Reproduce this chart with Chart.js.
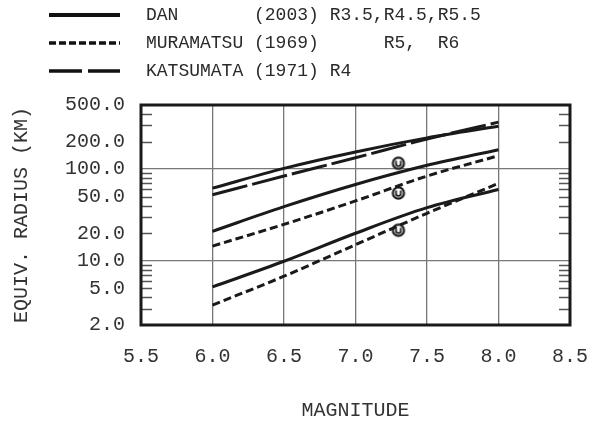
<!DOCTYPE html>
<html>
<head>
<meta charset="utf-8">
<script src="https://cdn.jsdelivr.net/npm/chart.js@4.4.1/dist/chart.umd.min.js"></script>
<style>
  body { margin: 0; background: #fff; }
  #wrap { position: relative; width: 589px; height: 425px; }
  #maingraph { position: absolute; left: 0; top: 0; }
  .key { position: absolute; left: 49px; height: 28px; font: 18px "Liberation Mono", monospace; color: #2a2a2a; white-space: pre; }
  .key svg { position: absolute; left: 0; top: 0; }
  .key span { position: absolute; left: 97px; top: 3px; }
</style>
</head>
<body>
<div id="wrap">
  <canvas id="maingraph" width="589" height="425"></canvas>
  <div class="key" style="top:2px">
    <svg width="75" height="28"><line x1="0" y1="13" x2="71" y2="13" stroke="#111" stroke-width="4"/></svg>
    <span>DAN       (2003) R3.5,R4.5,R5.5</span>
  </div>
  <div class="key" style="top:30px">
    <svg width="75" height="28"><line x1="0" y1="13" x2="71" y2="13" stroke="#111" stroke-width="3.5" stroke-dasharray="7,3"/></svg>
    <span>MURAMATSU (1969)      R5,  R6</span>
  </div>
  <div class="key" style="top:58px">
    <svg width="75" height="28"><line x1="0" y1="13" x2="71" y2="13" stroke="#111" stroke-width="3.5" stroke-dasharray="33,6"/></svg>
    <span>KATSUMATA (1971) R4</span>
  </div>
</div>
<script>
// magnitudes where the curves are sampled
const magnitudes = [6.0, 6.5, 7.0, 7.5, 8.0];

// Dan (2003) radii for R3.5 / R4.5 / R5.5 (km)
const danR35 = [5.2, 9.9, 20, 38, 60];
const danR45 = [21, 39, 68, 110, 163];
const danR55 = [62, 102, 154, 219, 293];

// Muramatsu (1969) R5 / R6
const muraR5 = [3.3, 6.8, 15, 33, 70];
const muraR6 = [14.5, 25, 45, 84, 140];

// Katsumata (1971) R4
const katsR4 = [52.5, 84, 133, 213, 325];

// observed radii at M7.3
const obsMag = 7.3;
const obsRadius = [116, 55, 21.6];

const xTicks = [5.5, 6.0, 6.5, 7.0, 7.5, 8.0, 8.5];
const yTicks = [2, 5, 10, 20, 50, 100, 200, 500];
const yGrid = [10, 100];

const ink = "#1a1a1a";
const labelFont = { family: "Liberation Mono", size: 20 };

function pts(arr) {
  return magnitudes.map((m, i) => ({ x: m, y: arr[i] }));
}

function curve(arr, dash) {
  return {
    data: pts(arr),
    borderColor: ink,
    borderWidth: 3,
    borderDash: dash,
    pointRadius: 0,
    cubicInterpolationMode: "monotone",
    fill: false,
  };
}

// little circle symbol with a "u" inside
function makeMarker() {
  const c = document.createElement("canvas");
  c.width = 16; c.height = 16;
  const g = c.getContext("2d");
  g.fillStyle = "#fff";
  g.strokeStyle = ink;
  g.lineWidth = 2.2;
  g.beginPath(); g.arc(8, 8, 5.6, 0, Math.PI * 2); g.fill(); g.stroke();
  g.lineWidth = 1.8;
  g.beginPath();
  g.moveTo(5.6, 5.5); g.lineTo(5.6, 8.5);
  g.arc(8, 8.5, 2.4, Math.PI, 0, true);
  g.lineTo(10.4, 5.5);
  g.stroke();
  return c;
}

// frame + inward log minor ticks on both sides
const frame = {
  id: "frame",
  afterDraw(chart) {
    const { ctx, chartArea: a, scales } = chart;
    const y = scales.y;
    ctx.save();
    ctx.strokeStyle = "#555";
    ctx.lineWidth = 1.3;
    for (let d = 1; d <= 100; d *= 10) {
      for (let k = 1; k <= 9; k++) {
        const v = k * d;
        if (v <= y.min || v >= y.max || yGrid.includes(v)) continue;
        const py = Math.round(y.getPixelForValue(v)) + 0.5;
        ctx.beginPath();
        ctx.moveTo(a.left, py); ctx.lineTo(a.left + 11, py);
        ctx.moveTo(a.right, py); ctx.lineTo(a.right - 11, py);
        ctx.stroke();
      }
    }
    ctx.strokeStyle = ink;
    ctx.lineWidth = 3;
    ctx.strokeRect(a.left, a.top, a.right - a.left, a.bottom - a.top);
    ctx.restore();
  },
};

const ctx = document.getElementById("maingraph");

new Chart(ctx, {
  type: "line",
  data: {
    datasets: [
      curve(danR35, []),
      curve(danR45, []),
      curve(danR55, []),
      curve(muraR5, [8, 4]),
      curve(muraR6, [8, 4]),
      curve(katsR4, [36, 5]),
      {
        data: obsRadius.map((r) => ({ x: obsMag, y: r })),
        showLine: false,
        pointStyle: makeMarker(),
        pointRadius: 6,
      },
    ],
  },
  options: {
    responsive: false,
    animation: false,
    layout: { padding: { top: 105, right: 19, left: 0, bottom: 0 } },
    plugins: { legend: { display: false }, tooltip: { enabled: false } },
    scales: {
      x: {
        type: "linear",
        min: 5.5,
        max: 8.5,
        afterBuildTicks: (s) => { s.ticks = xTicks.map((v) => ({ value: v })); },
        afterFit: (s) => { s.height = 100; s.paddingLeft = 0; s.paddingRight = 0; },
        ticks: { color: "#333", font: labelFont, padding: 20, callback: (v) => v.toFixed(1) },
        grid: { color: "#777", lineWidth: 1.3, drawTicks: false },
        border: { display: false },
        title: { display: true, text: "MAGNITUDE", color: "#333", font: labelFont, padding: { bottom: 2 } },
      },
      y: {
        type: "logarithmic",
        min: 2,
        max: 500,
        afterBuildTicks: (s) => { s.ticks = yTicks.map((v) => ({ value: v })); },
        afterFit: (s) => { s.width = 141; },
        ticks: { color: "#333", font: labelFont, padding: 16, callback: (v) => Number(v).toFixed(1) },
        grid: {
          color: (c) => (c.tick && yGrid.includes(c.tick.value) ? "#777" : "transparent"),
          lineWidth: 1.3,
          drawTicks: false,
        },
        border: { display: false },
        title: { display: true, text: "EQUIV. RADIUS (KM)", color: "#333", font: labelFont, padding: { top: 10 } },
      },
    },
  },
  plugins: [frame],
});
</script>
</body>
</html>
